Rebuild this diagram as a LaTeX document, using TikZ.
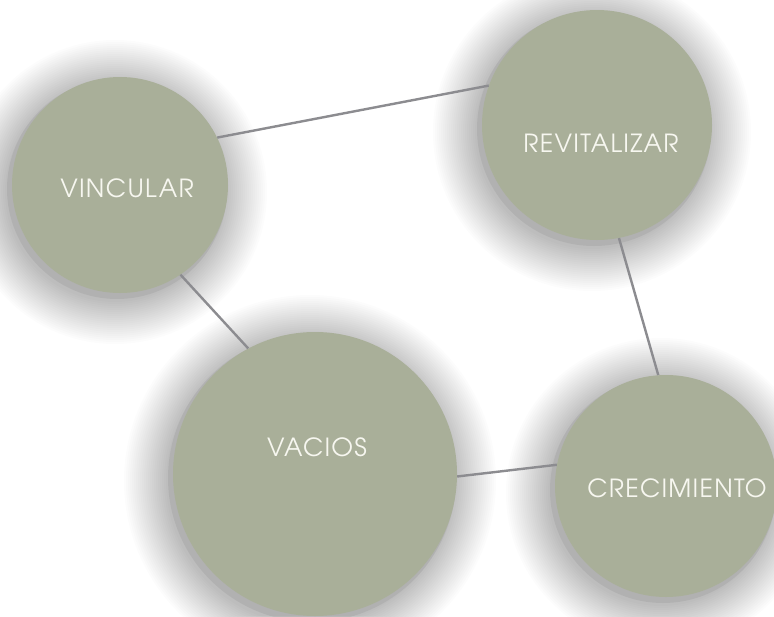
\documentclass[tikz,border=0pt]{standalone}
\usepackage{fontspec}
\setmainfont[LetterSpace=5]{texgyreadventor-regular.otf}
\definecolor{bubblefill}{HTML}{A9AF99}
\definecolor{linkgray}{HTML}{8C8C90}
\definecolor{wordcol}{HTML}{F7F7F0}
\newcommand\mysoftshadow[3]{%
  \foreach \k in {1,...,22} {\fill[black, opacity=0.013] (#1-5,#2+7) circle[radius=#3+2*\k];}%
  \fill[black, opacity=0.06] (#1-3,#2+4) circle[radius=#3+2];}
\begin{document}
\begin{tikzpicture}[x=1pt,y=-1pt,
  bubble/.style={circle, fill=bubblefill, inner sep=0pt},
  word/.style={text=wordcol, font=\fontsize{25}{28}\selectfont, inner sep=0pt},
  link/.style={draw=linkgray, line width=2.4pt}]
\fill[white] (0,0) rectangle (774,616);
\useasboundingbox (0,0) rectangle (774,616);
\mysoftshadow{120}{185}{108}
\mysoftshadow{597}{125}{115}
\mysoftshadow{315}{474}{142}
\mysoftshadow{666}{486}{111}
\node[bubble, minimum size=216pt] (vin) at (120,185) {};
\node[bubble, minimum size=230pt] (rev) at (597,125) {};
\node[bubble, minimum size=284pt] (vac) at (315,474) {};
\node[bubble, minimum size=222pt] (cre) at (666,486) {};
\draw[link] (vin.26) -- (rev.160);
\draw[link] (vin.-56) -- (vac.118);
\draw[link] (vac.-1) -- (cre.169);
\draw[link] (rev.-79) -- (cre.94);
\node[word] (tvin) at (127,188) {VINCULAR};
\node[word] (trev) at (601,143) {REVITALIZAR};
\node[word] (tvac) at (317,447) {VACIOS};
\node[word] (tcre) at (677,488) {CRECIMIENTO};
\end{tikzpicture}
\end{document}
